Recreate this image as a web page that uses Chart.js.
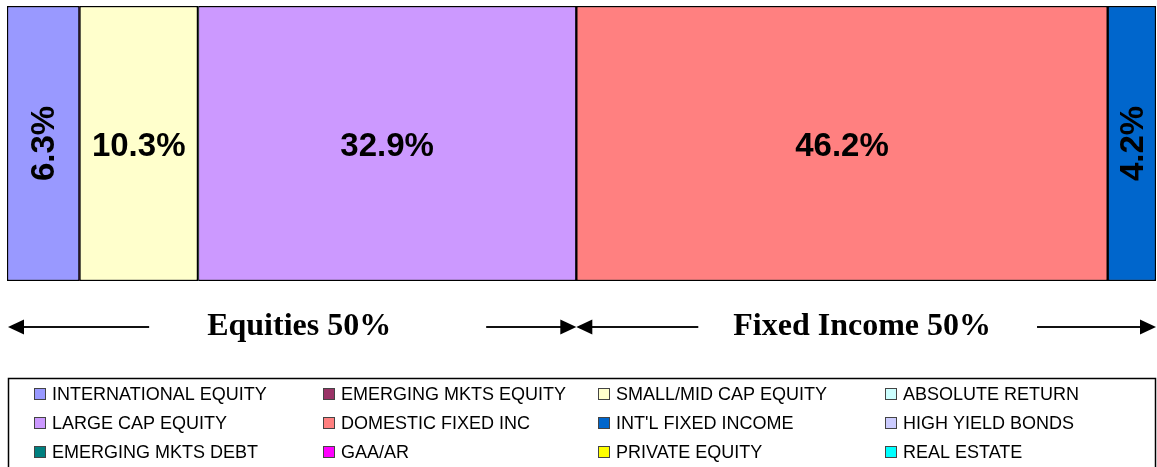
<!DOCTYPE html>
<html>
<head>
<meta charset="utf-8">
<script src="https://cdn.jsdelivr.net/npm/chart.js@4"></script>
<style>
  html, body { margin: 0; padding: 0; background: #fff; }
  #wrap { width: 1157px; height: 467px; position: relative; }
</style>
</head>
<body>
<div id="wrap"><canvas id="allocChart"></canvas></div>
<script>
// asset classes in legend order (row by row, 4 columns) - also the stacking order
const assetClasses = [
  'INTERNATIONAL EQUITY', 'EMERGING MKTS EQUITY', 'SMALL/MID CAP EQUITY', 'ABSOLUTE RETURN',
  'LARGE CAP EQUITY', 'DOMESTIC FIXED INC', "INT'L FIXED INCOME", 'HIGH YIELD BONDS',
  'EMERGING MKTS DEBT', 'GAA/AR', 'PRIVATE EQUITY', 'REAL ESTATE'
];
const allocations = [6.3, 0, 10.3, 0, 32.9, 46.2, 4.2, 0, 0, 0, 0, 0];
const colors = [
  '#9999FF', '#993366', '#FFFFCC', '#CCFFFF',
  '#CC99FF', '#FF8080', '#0066CC', '#CCCCFF',
  '#008080', '#FF00FF', '#FFFF00', '#00FFFF'
];
// the two groups under the bar: last asset-class index of each group
const groupLabels = ['Equities 50%', 'Fixed Income 50%'];
const groupEnds = [4, 11];

const total = allocations.reduce((a, b) => a + b, 0);

const segmentLabels = {
  id: 'segmentLabels',
  afterDatasetsDraw(chart) {
    const c = chart.ctx;
    c.save();
    c.fillStyle = '#000';
    c.font = 'bold 33px "Liberation Sans", Arial, sans-serif';
    c.textAlign = 'center';
    c.textBaseline = 'middle';
    chart.data.datasets.forEach((ds, i) => {
      const v = ds.data[0];
      if (!v) return;
      const el = chart.getDatasetMeta(i).data[0];
      const x = (el.x + el.base) / 2;
      const y = el.y + 3;
      const txt = v.toFixed(1) + '%';
      if (Math.abs(el.x - el.base) < 85) {
        c.save();
        c.translate(x + 2, el.y);
        c.rotate(-Math.PI / 2);
        c.fillText(txt, 0, 0);
        c.restore();
      } else {
        c.fillText(txt, x, y);
      }
    });
    c.restore();
  }
};

function arrowHead(c, x, y, dir) {
  c.beginPath();
  c.moveTo(x, y);
  c.lineTo(x - dir * 16, y - 7.5);
  c.lineTo(x - dir * 16, y + 7.5);
  c.closePath();
  c.fill();
}

// gaps between text and arrow lines, and text shift, per group
const arrowGaps = [[58, 95, 7], [35, 46, -4]];

const groupArrows = {
  id: 'groupArrows',
  afterDraw(chart) {
    const c = chart.ctx;
    const xs = chart.scales.x;
    const y = 327;
    let start = 0;
    c.save();
    c.fillStyle = '#000';
    c.strokeStyle = '#111';
    c.lineWidth = 2;
    c.font = 'bold 32px "Liberation Serif", "Times New Roman", serif';
    c.textAlign = 'center';
    c.textBaseline = 'middle';
    groupLabels.forEach((lbl, g) => {
      let sum = 0;
      for (let k = 0; k <= groupEnds[g]; k++) sum += allocations[k];
      const x0 = Math.max(xs.getPixelForValue(start), 8);
      const x1 = Math.min(xs.getPixelForValue(sum), 1156);
      const mid = (x0 + x1) / 2 + arrowGaps[g][2];
      const tw = c.measureText(lbl).width;
      c.beginPath();
      c.moveTo(x0 + 10, y); c.lineTo(mid - tw / 2 - arrowGaps[g][0], y);
      c.moveTo(mid + tw / 2 + arrowGaps[g][1], y); c.lineTo(x1 - 10, y);
      c.stroke();
      arrowHead(c, x0, y, -1);
      arrowHead(c, x1, y, 1);
      c.fillText(lbl, mid, y);
      start = sum;
    });
    c.restore();

    // legend box
    c.save();
    c.strokeStyle = '#000';
    c.lineWidth = 1.5;
    c.strokeRect(8.5, 378.5, 1147, 100);
    const colX = [34, 323, 598, 885];
    const rowY = [394, 423, 452];
    c.font = '18px "Liberation Sans", Arial, sans-serif';
    c.textBaseline = 'middle';
    c.textAlign = 'left';
    chart.data.datasets.forEach((ds, i) => {
      const bx = colX[i % 4];
      const by = rowY[Math.floor(i / 4)];
      c.fillStyle = ds.backgroundColor;
      c.fillRect(bx, by - 6, 12, 12);
      c.strokeStyle = '#444';
      c.lineWidth = 1;
      c.strokeRect(bx + 0.5, by - 5.5, 11, 11);
      c.fillStyle = '#000';
      c.fillText(ds.label, bx + 18, by + 1);
    });
    c.restore();
  }
};

const ctx = document.getElementById('allocChart').getContext('2d');
const allocChart = new Chart(ctx, {
  type: 'bar',
  data: {
    labels: ['Allocation'],
    datasets: assetClasses.map((name, i) => ({
      label: name,
      data: [allocations[i]],
      backgroundColor: colors[i],
      borderColor: '#000',
      borderWidth: c => (c.raw ? 1.5 : 0),
      borderSkipped: false,
      barPercentage: 1,
      categoryPercentage: 1
    }))
  },
  options: {
    indexAxis: 'y',
    responsive: true,
    maintainAspectRatio: false,
    animation: false,
    layout: { padding: { left: 7, top: 6, right: 1, bottom: 186 } },
    scales: {
      x: { stacked: true, min: 0, max: total, display: false },
      y: { stacked: true, display: false }
    },
    plugins: {
      legend: { display: false },
      tooltip: { enabled: false }
    }
  },
  plugins: [segmentLabels, groupArrows]
});
</script>
</body>
</html>
